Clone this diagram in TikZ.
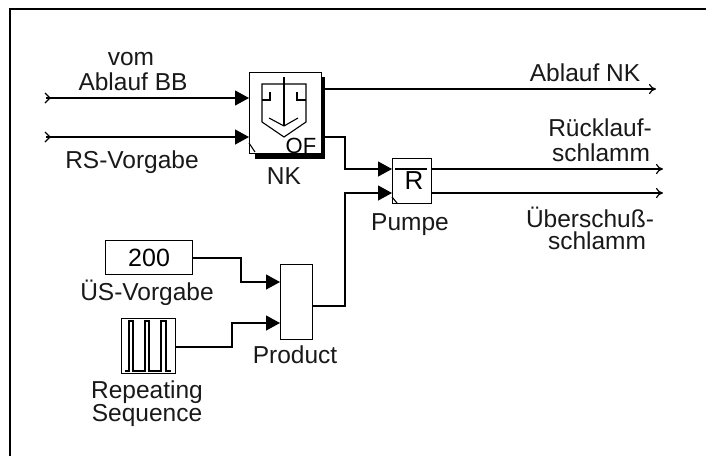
\documentclass[tikz,border=0pt]{standalone}
\usepackage{fontspec}
\setmainfont{Liberation Sans}
\usetikzlibrary{arrows.meta}
\tikzset{
  x=1pt,y=-1pt,
  blk/.style={draw=black,line width=1.2pt,fill=white,inner sep=0pt,anchor=north west},
  lab/.style={font=\fontsize{24.5}{24.5}\selectfont,align=center,inner sep=0pt,text=black!90},
  wire/.style={line width=1.2pt,black},
  sig/.style={wire,-{Triangle[length=14pt,width=15pt]}},
  outsig/.style={wire,-{To[length=7pt,width=10pt]}},
  gly/.style={line width=1.1pt,black}
}
\begin{document}
\begin{tikzpicture}
\useasboundingbox (0,0) rectangle (706,456);
\fill[white] (0,0) rectangle (706,456);
\draw[line width=1.2pt] (10,456) -- (10,9) -- (706,9);
% shadow and blocks
\fill[black] (255,77) rectangle (325,159);
\node[blk,minimum width=72pt,minimum height=81pt] (nk) at (249,72) {};
\node[blk,minimum width=39pt,minimum height=45pt] (pu) at (392,158) {};
\node[blk,minimum width=32pt,minimum height=75pt] (pr) at (280,264) {};
\node[blk,minimum width=87pt,minimum height=34pt,font=\fontsize{25}{25}\selectfont] (con) at (105,240) {200};
\node[blk,minimum width=54pt,minimum height=55pt] (rep) at (121,318) {};
% ports
\coordinate (in1) at (46,98);
\coordinate (in2) at (46,137);
\coordinate (nk1) at (249,98);
\coordinate (nk2) at (249,137);
\coordinate (nko1) at (325,89);
\coordinate (nko2) at (325,137);
\coordinate (pu1) at (392,169);
\coordinate (pu2) at (392,193);
\coordinate (puo1) at (431,169);
\coordinate (puo2) at (431,193);
\coordinate (pr1) at (280,282);
\coordinate (pr2) at (280,323);
\coordinate (pro) at (312,306);
\coordinate (repo) at (175,347);
\coordinate (cono) at (192,258);
\coordinate (e1) at (656,89);
\coordinate (e2) at (663,169);
\coordinate (e3) at (663,193);
% connectors
\draw[sig] (in1) -- (nk1);
\draw[sig] (in2) -- (nk2);
\draw[outsig] (nko1) -- (e1);
\draw[sig] (nko2) -| (345,169) -- (pu1);
\draw[sig] (pro) -| (345,193) -- (pu2);
\draw[outsig] (puo1) -- (e2);
\draw[outsig] (puo2) -- (e3);
\draw[sig] (cono) -| (241,282) -- (pr1);
\draw[sig] (repo) -| (232,323) -- (pr2);
% input chevrons
\draw[wire] (45,93) -- (50,98) -- (45,103);
\draw[wire] (45,132) -- (50,137) -- (45,142);
% NK glyph
\draw[gly] (262,84) -- (262,122) -- (284,137) -- (306,122) -- (306,84) -- cycle;
\draw[gly] (284,77) -- (284,126);
\draw[gly] (269,118) -- (284,126) -- (298,118);
\draw[gly] (262,100) -- (270,100) -- (270,92);
\draw[gly] (306,100) -- (297,100) -- (297,92);
\node[font=\fontsize{22}{22}\selectfont,inner sep=0pt] (of) at (301,146) {OF};
\draw[gly] (249,143) -- (255,152);
\draw[gly] (392,197) -- (397,203);
% pump glyph
\draw[gly] (395,169) -- (427,169);
\node[font=\fontsize{26}{26}\selectfont,inner sep=0pt] (pg) at (414,181) {R};
% repeating sequence glyph
\draw[gly] (125,371) -- (129,371) -- (129,321) -- (133,321) -- (133,371) -- (145,371) -- (145,321) -- (149,321) -- (149,371) -- (161,371) -- (161,321) -- (166,321) -- (166,371) -- (171,371);
% labels
\node[lab] (l1) at (131,59) {vom};
\node[lab] (l2) at (133,82) {Ablauf BB};
\node[lab] (l3) at (132,162) {RS-Vorgabe};
\node[lab] (l4) at (284,176) {NK};
\node[lab] (l5) at (585,73) {Ablauf NK};
\node[lab] (l6) at (600,128) {Rücklauf-};
\node[lab] (l7) at (601,153) {schlamm};
\node[lab] (l8) at (590,217) {Überschuß-};
\node[lab] (l9) at (597,241) {schlamm};
\node[lab] (l10) at (410,225) {Pumpe};
\node[lab] (l11) at (295,355) {Product};
\node[lab] (l12) at (147,293) {ÜS-Vorgabe};
\node[lab] (l13) at (147,392) {Repeating};
\node[lab] (l14) at (147,415) {Sequence};
\end{tikzpicture}
\end{document}
